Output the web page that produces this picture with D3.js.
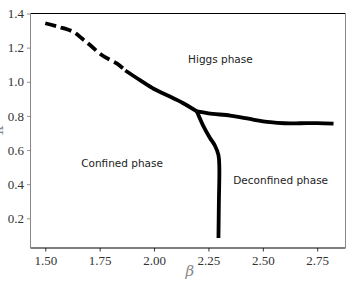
<!DOCTYPE html>
<html>
<head>
<meta charset="utf-8">
<script src="https://cdn.jsdelivr.net/npm/d3@7"></script>
<style>
  body { margin: 0; background: #fff; }
  svg { display: block; }
</style>
</head>
<body>
<div id="chart"></div>
<script>
// phase boundary pieces, [beta, kappa]
const dashedBoundary = [
  [1.500, 1.343], [1.560, 1.322], [1.630, 1.292], [1.669, 1.253],
  [1.707, 1.214], [1.761, 1.155], [1.830, 1.106], [1.868, 1.066]
];
const confinedHiggs = [
  [1.868, 1.066], [1.937, 1.008], [1.998, 0.959], [2.060, 0.921],
  [2.130, 0.877], [2.197, 0.826]
];
const higgsDeconfined = [
  [2.197, 0.826], [2.250, 0.815], [2.350, 0.802], [2.400, 0.792],
  [2.460, 0.777], [2.534, 0.763], [2.600, 0.757], [2.672, 0.757],
  [2.750, 0.758], [2.825, 0.755]
];
const confinedDeconfined = [
  [2.197, 0.826], [2.225, 0.745], [2.255, 0.675], [2.280, 0.625],
  [2.296, 0.570], [2.300, 0.500], [2.298, 0.300], [2.296, 0.085]
];
const phaseLabels = [
  { text: "Higgs phase", beta: 2.305, kappa: 1.133 },
  { text: "Confined phase", beta: 1.853, kappa: 0.525 },
  { text: "Deconfined phase", beta: 2.582, kappa: 0.42 }
];
const xTicks = [1.50, 1.75, 2.00, 2.25, 2.50, 2.75];
const yTicks = [0.2, 0.4, 0.6, 0.8, 1.0, 1.2, 1.4];

const width = 361;
const height = 291;
const margin = { top: 13.5, right: 15.5, bottom: 43, left: 30.5 };
const innerWidth = width - margin.left - margin.right;
const innerHeight = height - margin.top - margin.bottom;

const svg = d3.select("#chart")
  .append("svg")
  .attr("width", width)
  .attr("height", height);
const graph = svg.append("g")
  .attr("transform", `translate(${margin.left},${margin.top})`);

const x = d3.scaleLinear().domain([1.432, 2.88]).range([0, innerWidth]);
const y = d3.scaleLinear().domain([0.026, 1.4]).range([innerHeight, 0]);

// axes
const xAxis = graph.append("g")
  .attr("transform", `translate(0,${innerHeight})`)
  .call(d3.axisBottom(x).tickValues(xTicks).tickFormat(d3.format(".2f"))
    .tickSize(3.5).tickSizeOuter(0).tickPadding(4));
xAxis.select(".domain").remove();
xAxis.selectAll("line").attr("stroke", "#000").attr("stroke-width", 0.8);
xAxis.selectAll("text")
  .attr("fill", "#333")
  .style("font-family", "'Liberation Serif', serif")
  .style("font-size", "13px");

const yAxis = graph.append("g")
  .call(d3.axisLeft(y).tickValues(yTicks).tickFormat(d3.format(".1f"))
    .tickSize(3.5).tickSizeOuter(0).tickPadding(3));
yAxis.select(".domain").remove();
yAxis.selectAll("line").attr("stroke", "#777").attr("stroke-width", 0.8);
yAxis.selectAll("text")
  .attr("fill", "#333")
  .style("font-family", "'Liberation Serif', serif")
  .style("font-size", "13px");

// spines: top/bottom black, left/right grey
graph.append("line").attr("x1", 0).attr("x2", innerWidth).attr("y1", 0).attr("y2", 0)
  .attr("stroke", "#000").attr("stroke-width", 1.2);
graph.append("line").attr("x1", 0).attr("x2", innerWidth).attr("y1", innerHeight).attr("y2", innerHeight)
  .attr("stroke", "#000").attr("stroke-width", 1.2);
graph.append("line").attr("x1", 0).attr("x2", 0).attr("y1", 0).attr("y2", innerHeight)
  .attr("stroke", "#888").attr("stroke-width", 1);
graph.append("line").attr("x1", innerWidth).attr("x2", innerWidth).attr("y1", 0).attr("y2", innerHeight)
  .attr("stroke", "#888").attr("stroke-width", 1);

// axis labels
svg.append("text")
  .attr("x", margin.left + x(2.165))
  .attr("y", 276)
  .attr("text-anchor", "middle")
  .attr("fill", "#888")
  .style("font-family", "'DejaVu Serif', serif")
  .style("font-style", "italic")
  .style("font-size", "15px")
  .text("β");
svg.append("text")
  .attr("transform", `translate(3,${margin.top + y(0.72)}) rotate(-90)`)
  .attr("text-anchor", "middle")
  .attr("fill", "#888")
  .style("font-family", "'DejaVu Serif', serif")
  .style("font-style", "italic")
  .style("font-size", "15px")
  .text("κ");

// boundary lines
const line = d3.line()
  .x(d => x(d[0]))
  .y(d => y(d[1]))
  .curve(d3.curveCatmullRom);

graph.append("path")
  .datum(dashedBoundary)
  .attr("d", line)
  .attr("fill", "none")
  .attr("stroke", "#000")
  .attr("stroke-width", 3.8)
  .attr("stroke-dasharray", "11,5");

for (const seg of [confinedHiggs, higgsDeconfined, confinedDeconfined]) {
  graph.append("path")
    .datum(seg)
    .attr("d", line)
    .attr("fill", "none")
    .attr("stroke", "#000")
    .attr("stroke-width", 3.8)
    .attr("stroke-linejoin", "round");
}

// phase labels
graph.selectAll(".phase")
  .data(phaseLabels)
  .enter()
  .append("text")
  .attr("class", "phase")
  .attr("x", d => x(d.beta))
  .attr("y", d => y(d.kappa))
  .attr("dy", "0.35em")
  .attr("text-anchor", "middle")
  .attr("fill", "#222")
  .style("font-family", "'DejaVu Sans', sans-serif")
  .style("font-size", "10.5px")
  .text(d => d.text);
</script>
</body>
</html>
